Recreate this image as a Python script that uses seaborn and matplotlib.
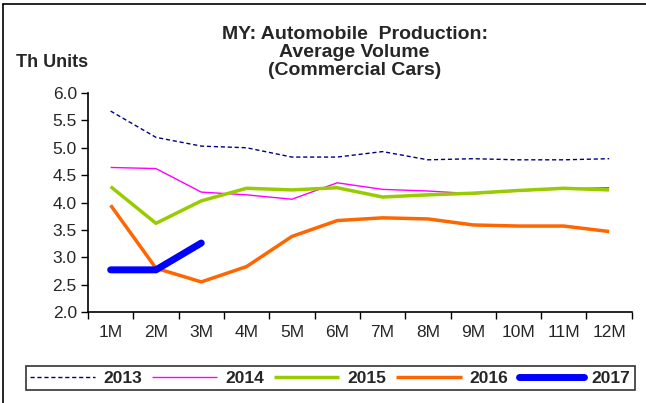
import numpy as np
import pandas as pd
import seaborn as sns
import matplotlib.pyplot as plt
from matplotlib.lines import Line2D

months = ["1M", "2M", "3M", "4M", "5M", "6M", "7M", "8M", "9M", "10M", "11M", "12M"]
y2013 = [5.67, 5.19, 5.03, 5.00, 4.83, 4.83, 4.93, 4.78, 4.80, 4.78, 4.78, 4.80]
y2014 = [4.64, 4.62, 4.19, 4.14, 4.06, 4.36, 4.24, 4.21, 4.16, 4.21, 4.25, 4.27]
y2015 = [4.29, 3.62, 4.03, 4.26, 4.23, 4.27, 4.10, 4.14, 4.17, 4.22, 4.26, 4.23]
y2016 = [3.95, 2.80, 2.55, 2.83, 3.38, 3.67, 3.72, 3.70, 3.59, 3.57, 3.57, 3.47]
y2017 = [2.77, 2.77, 3.26]

series = {"2013": y2013, "2014": y2014, "2015": y2015, "2016": y2016, "2017": y2017}
colors = {"2013": "#000080", "2014": "#FF00FF", "2015": "#99CC00", "2016": "#FF6600", "2017": "#0000FF"}
widths = {"2013": 1.0, "2014": 1.0, "2015": 2.5, "2016": 2.5, "2017": 5.0}
styles = {"2013": (0, (3, 2)), "2014": "-", "2015": "-", "2016": "-", "2017": "-"}

sns.set_style("white")
plt.rcParams['font.family'] = ['Liberation Sans', 'DejaVu Sans']

fig = plt.figure(figsize=(6.46, 4.03), dpi=100)
ax = fig.add_axes([0.1362, 0.2258, 0.8418, 0.5434])

for yr, vals in series.items():
    d = pd.DataFrame({"month": months[:len(vals)], "value": vals})
    sns.lineplot(data=d, x="month", y="value", ax=ax, color=colors[yr],
                 linewidth=widths[yr], linestyle=styles[yr], sort=False,
                 solid_capstyle="round" if yr == "2017" else "butt")

ax.set_xlim(-0.5, 11.5)
ax.set_ylim(2.0, 6.0)
ax.set_yticks(np.arange(2.0, 6.01, 0.5))
ax.set_yticklabels([f"{v:.1f}" for v in np.arange(2.0, 6.01, 0.5)], fontsize=12.5)
ax.set_xticks(range(12))
ax.set_xticklabels(months, fontsize=12.5)
ax.set_xticks(np.arange(-0.5, 12, 1), minor=True)
ax.tick_params(axis="x", which="major", length=0, pad=9)
ax.tick_params(axis="x", which="minor", length=5, width=1, direction="out", color="black", bottom=True)
ax.tick_params(axis="y", length=5, width=1, direction="out", color="black", left=True, pad=3)
ax.set_xlabel("")
ax.set_ylabel("")
for s in ["top", "right"]:
    ax.spines[s].set_visible(False)
for s in ["left", "bottom"]:
    ax.spines[s].set_color("black")
    ax.spines[s].set_linewidth(1.2)

fig.text(0.549, 0.935, "MY: Automobile  Production:\nAverage Volume\n(Commercial Cars)",
         ha="center", va="top", fontsize=14, fontweight="bold", linespacing=1.08)
fig.text(0.025, 0.846, "Th Units", ha="left", va="center", fontsize=13, fontweight="bold")

handles = [Line2D([], [], color=colors[yr], linewidth=widths[yr], linestyle=styles[yr],
                  solid_capstyle="round" if yr == "2017" else "butt") for yr in series]
leg = fig.legend(handles, list(series.keys()), loc="center", bbox_to_anchor=(0.511, 0.062),
                 ncol=5, frameon=True, fancybox=False, edgecolor="black", fontsize=12.5,
                 handlelength=3.75, columnspacing=0.6, handletextpad=0.45, borderpad=0.25,
                 borderaxespad=0.2)
leg.get_frame().set_linewidth(1.2)
for t in leg.get_texts():
    t.set_fontweight("bold")

# outer frame lines (left and top)
fig.add_artist(Line2D([0.005, 0.005], [0, 0.99], color="black", linewidth=1.2, transform=fig.transFigure))
fig.add_artist(Line2D([0.005, 1.0], [0.99, 0.99], color="black", linewidth=1.2, transform=fig.transFigure))

fig.savefig("out.png", dpi=100)
